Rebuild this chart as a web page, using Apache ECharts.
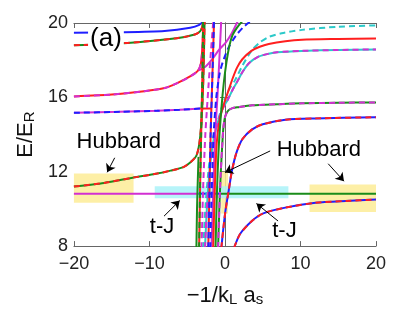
<!DOCTYPE html>
<html><head><meta charset="utf-8">
<script src="https://cdn.jsdelivr.net/npm/echarts@6/dist/echarts.min.js"></script>
<style>html,body{margin:0;padding:0;background:#fff}#c{width:415px;height:312px}</style>
</head><body><div id="c"></div>
<script>
// ---------- data (x = -1/(k_L a_s), y = E/E_R) ----------
const xTicks = [-20, -10, 0, 10, 20];
const yTicks = [8, 12, 16, 20];

const blueTop   = [[-20,19.47],[-14,19.5],[-8,19.57],[-4.6,19.74],[-3.4,19.9],[-2.85,20.1]];
const greenTop  = [[-20,18.8],[-12.9,18.93],[-6.4,19.18],[-4,19.38],[-3.3,19.55],[-3.0,19.8],[-2.9,20.1]];
const redMid    = [[-20,16.05],[-15,16.15],[-10.7,16.33],[-8,16.5],[-6.4,16.75],[-4.5,17.15],[-3.6,17.42],[-3.2,17.8],[-3.0,18.6],[-2.9,19.5],[-2.85,20.1]];
const magDiag   = [[-3.5,17.45],[-2.6,17.65],[-1.6,18.1],[-0.8,18.55],[0.1,18.95],[0.9,19.45],[1.7,20.1]];
const lvl15     = [[-20,15.17],[-14,15.22],[-9,15.28],[-6,15.33],[-3.3,15.4]];
const red15     = [[-3.3,15.4],[-1.8,15.4]];
const hubbardL  = [[-20,11.2],[-16,11.4],[-12.2,11.68],[-9,11.9],[-7.2,12.06],[-5.5,12.25],[-4.6,12.5],[-3.8,12.85],[-3.4,13.5],[-3.15,14.5],[-2.95,16],[-2.8,18],[-2.7,20.1]];
const tJmag     = [[-20,10.82],[-3.5,10.82]];
const tJblue    = [[-3.5,10.82],[-0.6,10.82]];
const tJgreen   = [[-0.6,10.82],[20,10.82]];
const vGreen1   = [[-3.78,7.9],[-3.7,10],[-3.6,11.5],[-3.5,12.8]];
const v1        = [[-3.42,7.9],[-3.3,11],[-3.15,14],[-3.05,16],[-2.95,18],[-2.9,20.1]];
const v2        = [[-3.09,7.9],[-2.9,11],[-2.6,14],[-2.2,16.5],[-1.85,18.5],[-1.55,20.1]];
const R1        = [[-2.86,7.9],[-2.6,10],[-2.2,12],[-1.7,13.6],[-1.17,14.4],[-0.3,15.6],[0.5,16.4],[1.3,16.9],[2.3,17.7],[3.5,18.5],[4.6,18.95],[5.8,19.25],[7.5,19.45],[10.2,19.63],[15,19.8],[20,19.87]];
const R3        = [[-2.64,7.9],[-2.4,10],[-2.05,12],[-1.6,13.5],[-1.0,14.6],[-0.3,15.4],[0.4,15.9],[1.0,16.4],[1.7,16.9],[2.3,17.35],[3.2,17.85],[4.5,18.2],[5.8,18.35],[6.9,18.43],[10.2,18.5],[15,18.55],[20,18.58]];
const v3        = [[-2.21,7.9],[-2.05,11],[-1.9,14],[-1.75,16],[-1.6,18],[-1.45,20.1]];
const vMag      = [[-1.78,7.9],[-1.55,11],[-1.3,14],[-1.0,16],[-0.75,18],[-0.5,20.1]];
const T2        = [[-1.95,7.9],[-1.75,11],[-1.5,14],[-1.15,16],[-0.7,17.3],[-0.25,17.95],[0.5,18.7],[1.5,19.35],[2.5,19.8],[3.4,20.1]];
const R2        = [[-1.56,7.9],[-1.35,11],[-1.1,13.5],[-0.7,14.8],[-0.1,15.7],[0.5,16.4],[1.0,17.0],[1.6,17.6],[2.3,18.05],[3.5,18.5],[4.6,18.72],[5.8,18.87],[8,19.02],[10.2,19.1],[15,19.14],[20,19.17]];
const T1        = [[-1.25,7.9],[-1.05,11],[-0.8,13.5],[-0.45,15.5],[-0.15,16.8],[0.2,17.9],[0.6,18.8],[1.0,19.35],[1.6,19.75],[2.3,20.1]];
const R4        = [[-0.91,7.9],[-0.75,10],[-0.55,12],[-0.35,13.5],[-0.2,14.4],[0.05,15.0],[0.45,15.3],[1.0,15.42],[1.7,15.47],[3.6,15.57],[6.9,15.63],[10.2,15.68],[15,15.71],[20,15.73]];
const R5        = [[-0.48,7.9],[-0.2,9],[0.1,10],[0.5,11],[0.9,12],[1.5,13],[2.3,13.75],[3.6,14.28],[5,14.55],[8,14.8],[12,14.87],[20,14.93]];
const R7        = [[1.2,7.9],[2,8.65],[3.6,9.36],[5,9.75],[8,10.07],[12,10.33],[16,10.43],[20,10.5]];

// highlighted regions [x0, y0, x1, y1]
const hubbardBoxes = [[-20,10.33,-12.1,11.9],[-0.5,9.75,0.4,12.0],[11.2,9.83,20,11.32]];
const tJBoxes      = [[-9.3,10.58,8.4,11.22]];

// ---------- styles ----------
const COL = {blue:'#1f1fff', red:'#ff1f1f', green:'#1a8c1a', cyan:'#2bc9c9', mag:'#d22fd2'};
const FONT = 'Liberation Sans, Arial, sans-serif';
const LW = 2;
const DASH = [6,4];

const series = [];
series.push({
  type:'line', data:[], z:1, silent:true,
  markArea:{silent:true, data:[
    ...hubbardBoxes.map(b => [{coord:[b[0],b[1]], itemStyle:{color:'rgba(253,236,150,0.85)'}},{coord:[b[2],b[3]]}]),
    ...tJBoxes.map(b => [{coord:[b[0],b[1]], itemStyle:{color:'rgba(170,242,248,0.85)'}},{coord:[b[2],b[3]]}])
  ]}
});
function line(data, color, dashed){
  series.push({type:'line', data, showSymbol:false, symbol:'none', smooth:0.25,
    z:2, silent:true, clip:true,
    lineStyle:{color, width:LW, type: dashed ? DASH : 'solid', cap:'butt'}});
}
function pair(data, solid, dash){ line(data, solid, false); line(data, dash, true); }

line(blueTop, COL.blue);
pair(greenTop, COL.green, COL.red);
pair(redMid, COL.red, COL.mag);
line(magDiag, COL.mag);
pair(lvl15, COL.mag, COL.blue);
line(red15, COL.red);
line(tJmag, COL.mag);
line(tJblue, COL.blue);
line(tJgreen, COL.green);
line(vGreen1, COL.green);
pair(hubbardL, COL.green, COL.red);
pair(v1, COL.red, COL.green);
line(v2, COL.mag, true);
line(R1, COL.cyan, true);
pair(R3, COL.cyan, COL.mag);
pair(v3, COL.red, COL.blue);
line(vMag, COL.mag);
line(T2, COL.blue, true);
line(R2, COL.red);
line(T1, COL.green);
pair(R4, COL.green, COL.mag);
pair(R5, COL.blue, COL.red);
pair(R7, COL.blue, COL.red);

function txt(x, y, s, size, bg){
  return {coord:[x,y], symbol:'rect', symbolSize:1, itemStyle:{color:'rgba(0,0,0,0)'},
    label:{show:true, position:'inside', formatter:s, fontSize:size, fontFamily:FONT, color:'#000',
      backgroundColor: bg || 'transparent', padding: bg ? [1,2,0,2] : 0}};
}
series.push({
  type:'line', data:[], z:5, silent:true,
  markLine:{silent:true, symbol:['none','arrow'], symbolSize:8, animation:false,
    label:{show:false}, lineStyle:{color:'#000', width:1, type:'solid'},
    data:[
      [{coord:[-14.6,12.75]},{coord:[-15.6,11.97]}],
      [{coord:[-8.07,9.61]},{coord:[-5.99,10.45]}],
      [{coord:[5.99,13.12], lineStyle:{curveness:-0.35}},{coord:[0.0,11.96]}],
      [{coord:[13.67,12.43]},{coord:[15.76,11.49]}],
      [{coord:[7.03,9.35]},{coord:[4.17,10.29]}]
    ]},
  markPoint:{silent:true, animation:false, data:[
    txt(-14.06,13.59,'Hubbard',22),
    txt(-8.33,9.03,'t-J',22),
    txt(12.43,13.19,'Hubbard',22),
    txt(7.88,8.8,'t-J',22),
    txt(-15.76,19.14,'(a)',26,'#fff')
  ]}
});

const axisCol = '#666';
const option = {
  animation:false,
  backgroundColor:'#fff',
  grid:{left:68, right:39, top:23, bottom:61},
  xAxis:[{
    type:'value', min:xTicks[0], max:xTicks[xTicks.length-1], interval:10,
    axisLine:{lineStyle:{color:axisCol, width:1}}, splitLine:{show:false},
    axisTick:{inside:true, length:5, lineStyle:{color:axisCol}},
    axisLabel:{fontSize:18, fontFamily:FONT, color:'#222', margin:9,
      formatter:v => (v<0 ? '\u2212' + Math.abs(v) : String(v))},
    name:'{a|\u22121/k}{s|L}{a| a}{s|s}', nameLocation:'middle', nameGap:19,
    nameTextStyle:{rich:{
      a:{fontSize:22, fontFamily:FONT, color:'#111', verticalAlign:'top', lineHeight:22},
      s:{fontSize:15, fontFamily:FONT, color:'#111', verticalAlign:'bottom', lineHeight:15, padding:[14,0,0,0]}
    }}
  },{
    type:'value', position:'top', min:-20, max:20, interval:10,
    axisLine:{lineStyle:{color:axisCol, width:1}}, splitLine:{show:false},
    axisTick:{inside:true, length:5, lineStyle:{color:axisCol}}, axisLabel:{show:false}
  }],
  yAxis:[{
    type:'value', min:yTicks[0], max:yTicks[yTicks.length-1], interval:4,
    axisLine:{show:true, lineStyle:{color:axisCol, width:1}}, splitLine:{show:false},
    axisTick:{show:true, inside:true, length:5, lineStyle:{color:axisCol}},
    axisLabel:{fontSize:18, fontFamily:FONT, color:'#222', margin:6},
    name:'{a|E/E}{s|R}', nameLocation:'middle', nameGap:36, nameRotate:90,
    nameTextStyle:{rich:{
      a:{fontSize:22, fontFamily:FONT, color:'#111', verticalAlign:'top', lineHeight:22},
      s:{fontSize:15, fontFamily:FONT, color:'#111', verticalAlign:'bottom', lineHeight:15, padding:[14,0,0,0]}
    }}
  },{
    type:'value', position:'right', min:8, max:20, interval:4,
    axisLine:{show:true, lineStyle:{color:axisCol, width:1}}, splitLine:{show:false},
    axisTick:{show:true, inside:true, length:5, lineStyle:{color:axisCol}}, axisLabel:{show:false}
  }],
  series
};
const chart = echarts.init(document.getElementById('c'), null, {renderer:'canvas'});
chart.setOption(option);
</script></body></html>
